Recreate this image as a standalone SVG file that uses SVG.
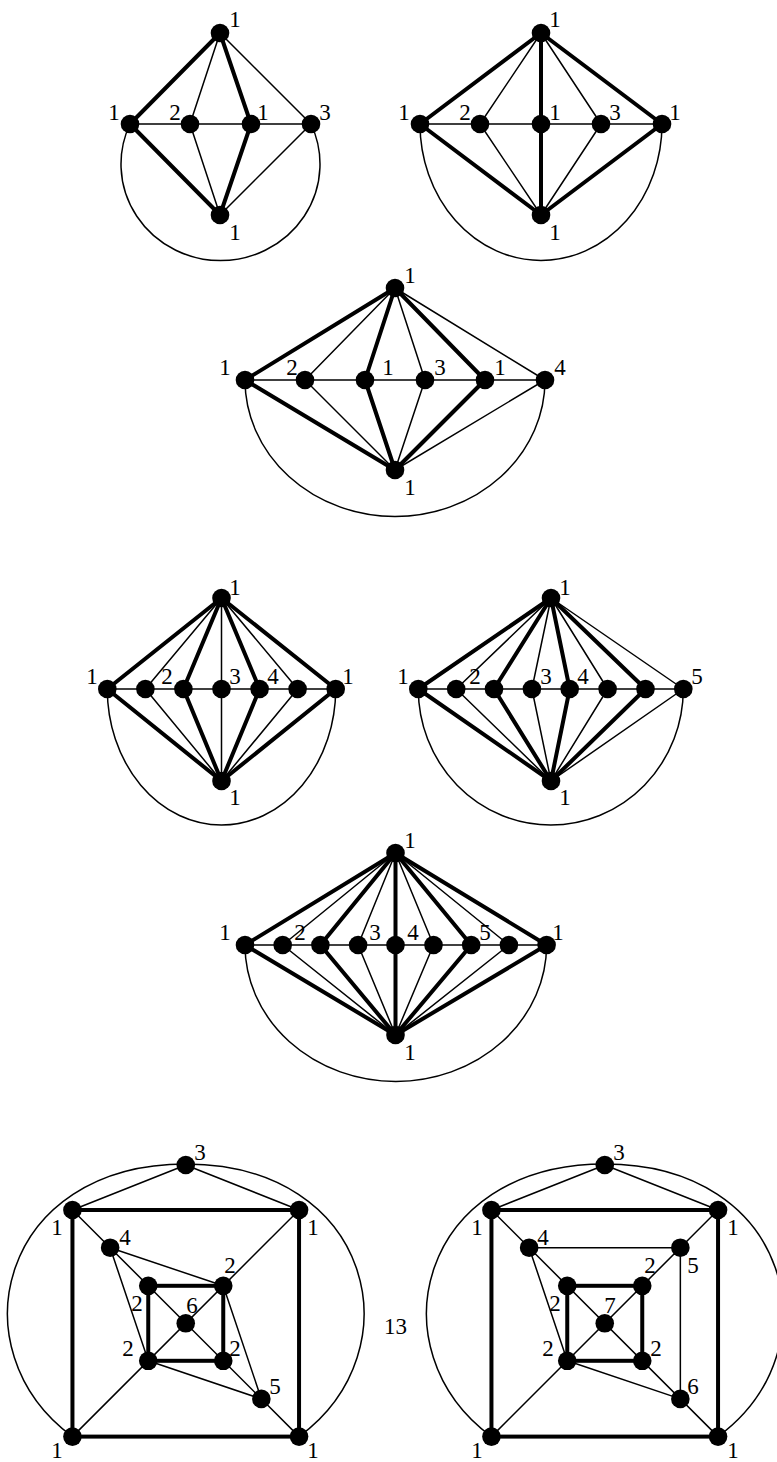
<svg xmlns="http://www.w3.org/2000/svg" width="777" height="1462" viewBox="0 0 777 1462">
<style>
.e{stroke:#000;fill:none;stroke-linecap:round}
.t{stroke-width:1.5}
.k{stroke-width:4}
.n circle{fill:#000}
text{font-family:"Liberation Serif","DejaVu Serif",serif;font-size:23px;fill:#000;text-anchor:middle}
</style>
<rect width="777" height="1462" fill="#fff"/>

<!-- Graph 1 -->
<g id="g1-edges" class="e">
<path class="t" d="M130,124 A99.5,96.5 0 1 0 311,124"/>
<line class="t" x1="130" y1="124" x2="311" y2="124"/>
<line class="t" x1="220" y1="33" x2="190" y2="124"/>
<line class="t" x1="220" y1="33" x2="311" y2="124"/>
<line class="t" x1="220" y1="215" x2="190" y2="124"/>
<line class="t" x1="220" y1="215" x2="311" y2="124"/>
<line class="k" x1="220" y1="33" x2="130" y2="124"/>
<line class="k" x1="220" y1="33" x2="251" y2="124"/>
<line class="k" x1="220" y1="215" x2="130" y2="124"/>
<line class="k" x1="220" y1="215" x2="251" y2="124"/>
</g>
<g id="g1-top" class="n"><circle cx="220" cy="33" r="9.3"/><text x="235" y="27">1</text></g>
<g id="g1-left" class="n"><circle cx="130" cy="124" r="9.3"/><text x="114" y="120">1</text></g>
<g id="g1-a" class="n"><circle cx="190" cy="124" r="9.3"/><text x="175" y="120">2</text></g>
<g id="g1-m" class="n"><circle cx="251" cy="124" r="9.3"/><text x="263" y="120">1</text></g>
<g id="g1-r" class="n"><circle cx="311" cy="124" r="9.3"/><text x="325" y="120">3</text></g>
<g id="g1-bot" class="n"><circle cx="220" cy="215" r="9.3"/><text x="235" y="240">1</text></g>

<!-- Graph 2 -->
<g id="g2-edges" class="e">
<path class="t" d="M420,124 A121,136.5 0 0 0 662,124"/>
<line class="t" x1="420" y1="124" x2="662" y2="124"/>
<line class="t" x1="541" y1="33" x2="480" y2="124"/>
<line class="t" x1="541" y1="33" x2="601" y2="124"/>
<line class="t" x1="541" y1="215" x2="480" y2="124"/>
<line class="t" x1="541" y1="215" x2="601" y2="124"/>
<line class="k" x1="541" y1="33" x2="420" y2="124"/>
<line class="k" x1="541" y1="33" x2="541" y2="215"/>
<line class="k" x1="541" y1="33" x2="662" y2="124"/>
<line class="k" x1="541" y1="215" x2="420" y2="124"/>
<line class="k" x1="541" y1="215" x2="662" y2="124"/>
</g>
<g id="g2-top" class="n"><circle cx="541" cy="33" r="9.3"/><text x="555" y="27">1</text></g>
<g id="g2-left" class="n"><circle cx="420" cy="124" r="9.3"/><text x="404" y="120">1</text></g>
<g id="g2-a" class="n"><circle cx="480" cy="124" r="9.3"/><text x="465" y="120">2</text></g>
<g id="g2-m" class="n"><circle cx="541" cy="124" r="9.3"/><text x="555" y="120">1</text></g>
<g id="g2-c" class="n"><circle cx="601" cy="124" r="9.3"/><text x="615" y="120">3</text></g>
<g id="g2-r" class="n"><circle cx="662" cy="124" r="9.3"/><text x="675" y="120">1</text></g>
<g id="g2-bot" class="n"><circle cx="541" cy="215" r="9.3"/><text x="555" y="240">1</text></g>

<!-- Graph 3 -->
<g id="g3-edges" class="e">
<path class="t" d="M245,380 A150,136.5 0 0 0 545,380"/>
<line class="t" x1="245" y1="380" x2="545" y2="380"/>
<line class="t" x1="395" y1="288" x2="305" y2="380"/>
<line class="t" x1="395" y1="288" x2="425" y2="380"/>
<line class="t" x1="395" y1="288" x2="545" y2="380"/>
<line class="t" x1="395" y1="470" x2="305" y2="380"/>
<line class="t" x1="395" y1="470" x2="425" y2="380"/>
<line class="t" x1="395" y1="470" x2="545" y2="380"/>
<line class="k" x1="395" y1="288" x2="245" y2="380"/>
<line class="k" x1="395" y1="288" x2="365" y2="380"/>
<line class="k" x1="395" y1="288" x2="485" y2="380"/>
<line class="k" x1="395" y1="470" x2="245" y2="380"/>
<line class="k" x1="395" y1="470" x2="365" y2="380"/>
<line class="k" x1="395" y1="470" x2="485" y2="380"/>
</g>
<g id="g3-top" class="n"><circle cx="395" cy="288" r="9.3"/><text x="410" y="283">1</text></g>
<g id="g3-n0" class="n"><circle cx="245" cy="380" r="9.3"/><text x="225" y="375">1</text></g>
<g id="g3-n1" class="n"><circle cx="305" cy="380" r="9.3"/><text x="292" y="375">2</text></g>
<g id="g3-n2" class="n"><circle cx="365" cy="380" r="9.3"/><text x="388" y="375">1</text></g>
<g id="g3-n3" class="n"><circle cx="425" cy="380" r="9.3"/><text x="440" y="375">3</text></g>
<g id="g3-n4" class="n"><circle cx="485" cy="380" r="9.3"/><text x="500" y="375">1</text></g>
<g id="g3-n5" class="n"><circle cx="545" cy="380" r="9.3"/><text x="560" y="375">4</text></g>
<g id="g3-bot" class="n"><circle cx="395" cy="470" r="9.3"/><text x="410" y="495">1</text></g>

<!-- Graph 4 -->
<g id="g4-edges" class="e">
<path class="t" d="M107.3,689 A114.2,136 0 0 0 335.7,689"/>
<line class="t" x1="107.3" y1="689" x2="335.7" y2="689"/>
<line class="t" x1="221.5" y1="598" x2="145.4" y2="689"/>
<line class="t" x1="221.5" y1="598" x2="221.5" y2="781"/>
<line class="t" x1="221.5" y1="598" x2="297.6" y2="689"/>
<line class="t" x1="221.5" y1="781" x2="145.4" y2="689"/>
<line class="t" x1="221.5" y1="781" x2="297.6" y2="689"/>
<line class="k" x1="221.5" y1="598" x2="107.3" y2="689"/>
<line class="k" x1="221.5" y1="598" x2="183.4" y2="689"/>
<line class="k" x1="221.5" y1="598" x2="259.6" y2="689"/>
<line class="k" x1="221.5" y1="598" x2="335.7" y2="689"/>
<line class="k" x1="221.5" y1="781" x2="107.3" y2="689"/>
<line class="k" x1="221.5" y1="781" x2="183.4" y2="689"/>
<line class="k" x1="221.5" y1="781" x2="259.6" y2="689"/>
<line class="k" x1="221.5" y1="781" x2="335.7" y2="689"/>
</g>
<g id="g4-top" class="n"><circle cx="221.5" cy="598" r="9.3"/><text x="235" y="595">1</text></g>
<g id="g4-n0" class="n"><circle cx="107.3" cy="689" r="9.3"/><text x="92" y="684">1</text></g>
<g id="g4-n1" class="n"><circle cx="145.4" cy="689" r="9.3"/><text x="167" y="684">2</text></g>
<g id="g4-n2" class="n"><circle cx="183.4" cy="689" r="9.3"/></g>
<g id="g4-n3" class="n"><circle cx="221.5" cy="689" r="9.3"/><text x="235" y="684">3</text></g>
<g id="g4-n4" class="n"><circle cx="259.6" cy="689" r="9.3"/><text x="273" y="684">4</text></g>
<g id="g4-n5" class="n"><circle cx="297.6" cy="689" r="9.3"/></g>
<g id="g4-n6" class="n"><circle cx="335.7" cy="689" r="9.3"/><text x="348" y="684">1</text></g>
<g id="g4-bot" class="n"><circle cx="221.5" cy="781" r="9.3"/><text x="235" y="805">1</text></g>

<!-- Graph 5 -->
<g id="g5-edges" class="e">
<path class="t" d="M418.3,689 A132.5,136 0 0 0 683.3,689"/>
<line class="t" x1="418.3" y1="689" x2="683.3" y2="689"/>
<line class="t" x1="551" y1="598" x2="456.2" y2="689"/>
<line class="t" x1="551" y1="598" x2="531.9" y2="689"/>
<line class="t" x1="551" y1="598" x2="607.6" y2="689"/>
<line class="t" x1="551" y1="598" x2="683.3" y2="689"/>
<line class="t" x1="551" y1="781" x2="456.2" y2="689"/>
<line class="t" x1="551" y1="781" x2="531.9" y2="689"/>
<line class="t" x1="551" y1="781" x2="607.6" y2="689"/>
<line class="t" x1="551" y1="781" x2="683.3" y2="689"/>
<line class="k" x1="551" y1="598" x2="418.3" y2="689"/>
<line class="k" x1="551" y1="598" x2="494" y2="689"/>
<line class="k" x1="551" y1="598" x2="569.7" y2="689"/>
<line class="k" x1="551" y1="598" x2="645.5" y2="689"/>
<line class="k" x1="551" y1="781" x2="418.3" y2="689"/>
<line class="k" x1="551" y1="781" x2="494" y2="689"/>
<line class="k" x1="551" y1="781" x2="569.7" y2="689"/>
<line class="k" x1="551" y1="781" x2="645.5" y2="689"/>
</g>
<g id="g5-top" class="n"><circle cx="551" cy="598" r="9.3"/><text x="565" y="595">1</text></g>
<g id="g5-n0" class="n"><circle cx="418.3" cy="689" r="9.3"/><text x="403" y="684">1</text></g>
<g id="g5-n1" class="n"><circle cx="456.2" cy="689" r="9.3"/><text x="475" y="684">2</text></g>
<g id="g5-n2" class="n"><circle cx="494" cy="689" r="9.3"/></g>
<g id="g5-n3" class="n"><circle cx="531.9" cy="689" r="9.3"/><text x="546" y="684">3</text></g>
<g id="g5-n4" class="n"><circle cx="569.7" cy="689" r="9.3"/><text x="583" y="684">4</text></g>
<g id="g5-n5" class="n"><circle cx="607.6" cy="689" r="9.3"/></g>
<g id="g5-n6" class="n"><circle cx="645.5" cy="689" r="9.3"/></g>
<g id="g5-n7" class="n"><circle cx="683.3" cy="689" r="9.3"/><text x="697" y="684">5</text></g>
<g id="g5-bot" class="n"><circle cx="551" cy="781" r="9.3"/><text x="565" y="805">1</text></g>

<!-- Graph 6 -->
<g id="g6-edges" class="e">
<path class="t" d="M245,945 A150.8,136.5 0 0 0 546.6,945"/>
<line class="t" x1="245" y1="945" x2="546.6" y2="945"/>
<line class="t" x1="395.5" y1="853" x2="282.7" y2="945"/>
<line class="t" x1="395.5" y1="853" x2="358.1" y2="945"/>
<line class="t" x1="395.5" y1="853" x2="433.5" y2="945"/>
<line class="t" x1="395.5" y1="853" x2="508.9" y2="945"/>
<line class="t" x1="395.5" y1="1035" x2="282.7" y2="945"/>
<line class="t" x1="395.5" y1="1035" x2="358.1" y2="945"/>
<line class="t" x1="395.5" y1="1035" x2="433.5" y2="945"/>
<line class="t" x1="395.5" y1="1035" x2="508.9" y2="945"/>
<line class="k" x1="395.5" y1="853" x2="245" y2="945"/>
<line class="k" x1="395.5" y1="853" x2="320.4" y2="945"/>
<line class="k" x1="395.5" y1="853" x2="395.5" y2="1035"/>
<line class="k" x1="395.5" y1="853" x2="471.2" y2="945"/>
<line class="k" x1="395.5" y1="853" x2="546.6" y2="945"/>
<line class="k" x1="395.5" y1="1035" x2="245" y2="945"/>
<line class="k" x1="395.5" y1="1035" x2="320.4" y2="945"/>
<line class="k" x1="395.5" y1="1035" x2="471.2" y2="945"/>
<line class="k" x1="395.5" y1="1035" x2="546.6" y2="945"/>
</g>
<g id="g6-top" class="n"><circle cx="395.5" cy="853" r="9.3"/><text x="410" y="848">1</text></g>
<g id="g6-n0" class="n"><circle cx="245" cy="945" r="9.3"/><text x="225" y="940">1</text></g>
<g id="g6-n1" class="n"><circle cx="282.7" cy="945" r="9.3"/><text x="300" y="940">2</text></g>
<g id="g6-n2" class="n"><circle cx="320.4" cy="945" r="9.3"/></g>
<g id="g6-n3" class="n"><circle cx="358.1" cy="945" r="9.3"/><text x="375" y="940">3</text></g>
<g id="g6-n4" class="n"><circle cx="395.5" cy="945" r="9.3"/><text x="413" y="940">4</text></g>
<g id="g6-n5" class="n"><circle cx="433.5" cy="945" r="9.3"/></g>
<g id="g6-n6" class="n"><circle cx="471.2" cy="945" r="9.3"/><text x="485" y="940">5</text></g>
<g id="g6-n7" class="n"><circle cx="508.9" cy="945" r="9.3"/></g>
<g id="g6-n8" class="n"><circle cx="546.6" cy="945" r="9.3"/><text x="558" y="940">1</text></g>
<g id="g6-bot" class="n"><circle cx="395.5" cy="1035" r="9.3"/><text x="410" y="1060">1</text></g>

<!-- Graph 7 -->
<g id="g7-edges" class="e">
<path class="t" d="M72.45,1436.6 C-45.25,1350 -0.25,1164 185.75,1164 C371.75,1164 416.75,1350 299.05,1436.6"/>
<line class="t" x1="185.75" y1="1165" x2="72.45" y2="1210"/>
<line class="t" x1="185.75" y1="1165" x2="299.05" y2="1210"/>
<line class="t" x1="72.45" y1="1210" x2="299.05" y2="1436.6"/>
<line class="t" x1="299.05" y1="1210" x2="72.45" y2="1436.6"/>
<line class="t" x1="110.15" y1="1247.7" x2="223.25" y2="1285.8"/>
<line class="t" x1="110.15" y1="1247.7" x2="148.25" y2="1360.8"/>
<line class="t" x1="223.25" y1="1285.8" x2="261.35" y2="1398.9"/>
<line class="t" x1="148.25" y1="1360.8" x2="261.35" y2="1398.9"/>
<rect class="k" x="72.45" y="1210" width="226.6" height="226.6"/>
<rect class="k" x="148.25" y="1285.8" width="75" height="75"/>
</g>
<g id="g7-n3" class="n"><circle cx="185.75" cy="1165" r="9.3"/><text x="200" y="1160">3</text></g>
<g id="g7-tl" class="n"><circle cx="72.45" cy="1210" r="9.3"/><text x="57" y="1235">1</text></g>
<g id="g7-tr" class="n"><circle cx="299.05" cy="1210" r="9.3"/><text x="313" y="1235">1</text></g>
<g id="g7-bl" class="n"><circle cx="72.45" cy="1436.6" r="9.3"/><text x="57" y="1458">1</text></g>
<g id="g7-br" class="n"><circle cx="299.05" cy="1436.6" r="9.3"/><text x="313" y="1458">1</text></g>
<g id="g7-n4" class="n"><circle cx="110.15" cy="1247.7" r="9.3"/><text x="125" y="1245">4</text></g>
<g id="g7-itr" class="n"><circle cx="223.25" cy="1285.8" r="9.3"/><text x="230" y="1273">2</text></g>
<g id="g7-itl" class="n"><circle cx="148.25" cy="1285.8" r="9.3"/><text x="137" y="1311">2</text></g>
<g id="g7-c" class="n"><circle cx="185.75" cy="1323.3" r="9.3"/><text x="192" y="1313">6</text></g>
<g id="g7-ibl" class="n"><circle cx="148.25" cy="1360.8" r="9.3"/><text x="128" y="1356">2</text></g>
<g id="g7-ibr" class="n"><circle cx="223.25" cy="1360.8" r="9.3"/><text x="235" y="1356">2</text></g>
<g id="g7-n5" class="n"><circle cx="261.35" cy="1398.9" r="9.3"/><text x="275" y="1394">5</text></g>

<text id="label-13" x="395.5" y="1334">13</text>

<!-- Graph 8 -->
<g id="g8-edges" class="e">
<path class="t" d="M491.45,1436.6 C373.75,1350 418.75,1164 604.75,1164 C790.75,1164 835.75,1350 718.05,1436.6"/>
<line class="t" x1="604.75" y1="1165" x2="491.45" y2="1210"/>
<line class="t" x1="604.75" y1="1165" x2="718.05" y2="1210"/>
<line class="t" x1="491.45" y1="1210" x2="718.05" y2="1436.6"/>
<line class="t" x1="718.05" y1="1210" x2="491.45" y2="1436.6"/>
<line class="t" x1="529.15" y1="1247.7" x2="680.35" y2="1247.7"/>
<line class="t" x1="680.35" y1="1247.7" x2="680.35" y2="1398.9"/>
<line class="t" x1="529.15" y1="1247.7" x2="567.25" y2="1360.8"/>
<line class="t" x1="567.25" y1="1360.8" x2="680.35" y2="1398.9"/>
<rect class="k" x="491.45" y="1210" width="226.6" height="226.6"/>
<rect class="k" x="567.25" y="1285.8" width="75" height="75"/>
</g>
<g id="g8-n3" class="n"><circle cx="604.75" cy="1165" r="9.3"/><text x="619" y="1160">3</text></g>
<g id="g8-tl" class="n"><circle cx="491.45" cy="1210" r="9.3"/><text x="477" y="1235">1</text></g>
<g id="g8-tr" class="n"><circle cx="718.05" cy="1210" r="9.3"/><text x="733" y="1235">1</text></g>
<g id="g8-bl" class="n"><circle cx="491.45" cy="1436.6" r="9.3"/><text x="477" y="1458">1</text></g>
<g id="g8-br" class="n"><circle cx="718.05" cy="1436.6" r="9.3"/><text x="733" y="1458">1</text></g>
<g id="g8-n4" class="n"><circle cx="529.15" cy="1247.7" r="9.3"/><text x="543" y="1245">4</text></g>
<g id="g8-n5" class="n"><circle cx="680.35" cy="1247.7" r="9.3"/><text x="693" y="1273">5</text></g>
<g id="g8-itr" class="n"><circle cx="642.25" cy="1285.8" r="9.3"/><text x="650" y="1273">2</text></g>
<g id="g8-itl" class="n"><circle cx="567.25" cy="1285.8" r="9.3"/><text x="555" y="1311">2</text></g>
<g id="g8-c" class="n"><circle cx="604.75" cy="1323.3" r="9.3"/><text x="610" y="1313">7</text></g>
<g id="g8-ibl" class="n"><circle cx="567.25" cy="1360.8" r="9.3"/><text x="548" y="1356">2</text></g>
<g id="g8-ibr" class="n"><circle cx="642.25" cy="1360.8" r="9.3"/><text x="656" y="1356">2</text></g>
<g id="g8-n6" class="n"><circle cx="680.35" cy="1398.9" r="9.3"/><text x="693" y="1394">6</text></g>
</svg>
